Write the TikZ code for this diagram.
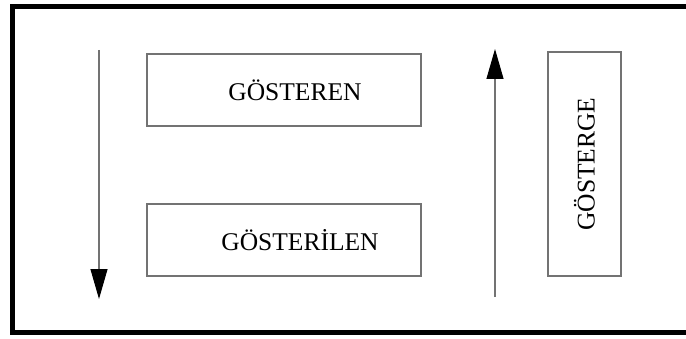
\documentclass[tikz,border=0pt]{standalone}
\usepackage{fontspec}
\setmainfont{Liberation Serif}
\usetikzlibrary{arrows.meta}
\begin{document}
\begin{tikzpicture}[x=1pt,y=1pt,
  box/.style={draw=black!55,line width=1.1pt,inner sep=0pt},
  lbl/.style={inner sep=0pt,font=\fontsize{25.5}{30}\selectfont},
  flow/.style={draw=black!55,line width=1.1pt,-{Triangle[length=30pt,width=17pt,color=black,fill=black]}},
  frame/.style={line width=5pt,black}]
\useasboundingbox (0,0) rectangle (686,338);
\begin{scope}
\clip (0,0) rectangle (686,338);
\draw[frame] (700,331.5) -- (12.5,331.5) -- (12.5,5.5) -- (700,5.5);
\end{scope}
\node[box,minimum width=274pt,minimum height=72pt] (gosteren) at (284,248) {};
\node[box,minimum width=274pt,minimum height=72pt] (gosterilen) at (284,98) {};
\node[box,minimum width=73pt,minimum height=224pt] (gosterge) at (584.5,174) {};
\node[lbl] (t1) at ([xshift=11pt]gosteren.center) {GÖSTEREN};
\node[lbl] (t2) at ([xshift=16pt]gosterilen.center) {GÖSTERİLEN};
\node[lbl,rotate=90] (t3) at (gosterge.center) {GÖSTERGE};
\coordinate (a1s) at (99,288);
\coordinate (a1e) at (99,39);
\coordinate (a2s) at (495,41);
\coordinate (a2e) at (495,289);
\draw[flow] (a1s) -- (a1e);
\draw[flow] (a2s) -- (a2e);
\end{tikzpicture}
\end{document}
